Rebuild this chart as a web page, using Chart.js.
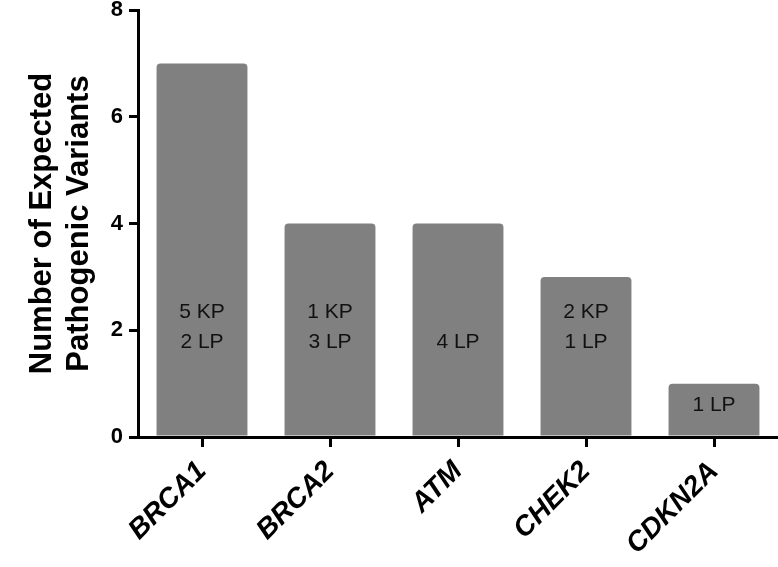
<!DOCTYPE html>
<html>
<head>
<meta charset="utf-8">
<script src="https://cdn.jsdelivr.net/npm/chart.js@4"></script>
<style>
  body { margin: 0; background: #fff; }
</style>
</head>
<body>
<canvas id="chartOne" width="778" height="567"></canvas>
<script>
// genes along the x-axis
var genes = ["BRCA1", "BRCA2", "ATM", "CHEK2", "CDKN2A"];
// expected pathogenic variants per gene
var variants = [7, 4, 4, 3, 1];
// known pathogenic / likely pathogenic counts written inside the bars
var knownPath = [5, 1, 0, 2, 0];
var likelyPath = [2, 3, 4, 1, 1];
var yTicks = [0, 2, 4, 6, 8];

var font = "Arial, 'Liberation Sans', Helvetica, sans-serif";

// writes the KP / LP text inside each bar
var barText = {
  id: "barText",
  afterDatasetsDraw: function(chart) {
    var c = chart.ctx;
    var y = chart.scales.y;
    var meta = chart.getDatasetMeta(0);
    c.save();
    c.font = "21px " + font;
    c.fillStyle = "#111";
    c.textAlign = "center";
    c.textBaseline = "middle";
    meta.data.forEach(function(bar, i) {
      if (variants[i] < 2) {
        c.fillText(likelyPath[i] + " LP", bar.x, y.getPixelForValue(variants[i] / 2) - 5);
        return;
      }
      var mid = y.getPixelForValue(2.05);
      if (knownPath[i] > 0) c.fillText(knownPath[i] + " KP", bar.x, mid - 15);
      c.fillText(likelyPath[i] + " LP", bar.x, mid + 15);
    });
    c.restore();
  }
};

var ctx = document.getElementById("chartOne");
var chartOne = new Chart(ctx, {
  type: 'bar',
  data: {
    labels: genes,
    datasets: [
      {
        data: variants,
        backgroundColor: "#808080",
        borderRadius: { topLeft: 4, topRight: 4 },
        borderSkipped: 'bottom',
        barPercentage: 0.71,
        categoryPercentage: 1
      }
    ]
  },
  plugins: [barText],
  options: {
    responsive: false,
    animation: false,
    devicePixelRatio: 1,
    layout: { padding: { top: 0, right: 0, left: 0, bottom: 0 } },
    plugins: {
      legend: { display: false },
      tooltip: { enabled: false }
    },
    scales: {
      x: {
        offset: true,
        grid: { display: true, drawOnChartArea: false, offset: false, color: "#000", lineWidth: 3, tickLength: 10 },
        border: { color: "#000", width: 3 },
        ticks: {
          color: "#000",
          font: { family: font, size: 28, weight: "bold", style: "italic" },
          minRotation: 45,
          maxRotation: 45,
          padding: 8
        },
        afterFit: function(s) { s.height = 130; }
      },
      y: {
        min: 0,
        max: 8,
        afterBuildTicks: function(s) { s.ticks = yTicks.map(function(v) { return { value: v }; }); },
        grid: { display: true, drawOnChartArea: false, color: "#000", lineWidth: 3, tickLength: 9 },
        border: { color: "#000", width: 3 },
        ticks: {
          color: "#000",
          font: { family: font, size: 22, weight: "bold", lineHeight: 0.9 },
          padding: 6
        },
        title: {
          display: true,
          text: ["Number of Expected", "Pathogenic Variants"],
          color: "#000",
          font: { family: font, size: 31, weight: "bold", lineHeight: 1.2 },
          padding: { top: 24, bottom: 0 }
        },
        afterFit: function(s) { s.width = 138; s.paddingTop = 10; }
      }
    }
  }
});
</script>
</body>
</html>
